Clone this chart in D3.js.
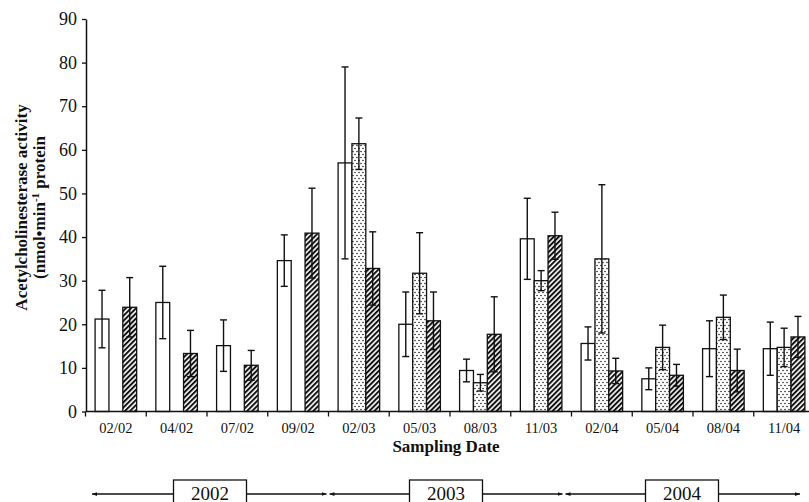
<!DOCTYPE html>
<html>
<head>
<meta charset="utf-8">
<script src="https://cdn.jsdelivr.net/npm/d3@7"></script>
<style>
  html, body { margin: 0; padding: 0; background: #fff; }
  svg { display: block; }
  text { font-family: "Liberation Serif", "Times New Roman", serif; fill: #111; }
</style>
</head>
<body>
<svg id="chart" width="809" height="502"></svg>
<script>
// Sampling dates (month/year)
const categories = ["02/02", "04/02", "07/02", "09/02", "02/03", "05/03",
                    "08/03", "11/03", "02/04", "05/04", "08/04", "11/04"];

// Mean activity per site (nmol·min-1 protein); null = not sampled
const siteOpen    = [21.2, 25.0, 15.1, 34.6, 57.0, 20.0, 9.4, 39.6, 15.6, 7.5, 14.4, 14.4];
const siteDotted  = [null, null, null, null, 61.4, 31.7, 6.6, 30.0, 35.0, 14.7, 21.6, 14.7];
const siteHatched = [23.9, 13.3, 10.6, 40.9, 32.8, 20.8, 17.7, 40.3, 9.3, 8.3, 9.4, 17.1];

// Standard deviations
const errOpen    = [6.6, 8.3, 5.9, 5.9, 22.0, 7.4, 2.6, 9.3, 3.8, 2.5, 6.4, 6.1];
const errDotted  = [null, null, null, null, 5.9, 9.3, 1.9, 2.3, 17.0, 5.1, 5.1, 4.4];
const errHatched = [6.8, 5.3, 3.4, 10.3, 8.4, 6.6, 8.6, 5.4, 2.9, 2.5, 4.9, 4.7];

const seriesKeys = ["open", "dotted", "hatched"];
const yTicks = [0, 10, 20, 30, 40, 50, 60, 70, 80, 90];
const years = [2002, 2003, 2004];

const svg = d3.select("#chart");

// Fill patterns
const defs = svg.append("defs");
const dots = defs.append("pattern")
  .attr("id", "dots").attr("patternUnits", "userSpaceOnUse")
  .attr("width", 4).attr("height", 6);
dots.append("rect").attr("width", 4).attr("height", 6).attr("fill", "#fff");
dots.append("circle").attr("cx", 1).attr("cy", 1.5).attr("r", 0.75).attr("fill", "#111");
dots.append("circle").attr("cx", 3).attr("cy", 4.5).attr("r", 0.75).attr("fill", "#111");

const hatch = defs.append("pattern")
  .attr("id", "hatch").attr("patternUnits", "userSpaceOnUse")
  .attr("width", 3.6).attr("height", 8)
  .attr("patternTransform", "rotate(45)");
hatch.append("rect").attr("width", 3.6).attr("height", 8).attr("fill", "#fff");
hatch.append("rect").attr("width", 2.0).attr("height", 8).attr("fill", "#111");

const fills = { open: "#fff", dotted: "url(#dots)", hatched: "url(#hatch)" };

// Scales
const x = d3.scaleBand().domain(categories).range([85.5, 814.5]).paddingInner(0).paddingOuter(0);
const xs = d3.scaleBand().domain(seriesKeys)
  .range([x.bandwidth() * 0.158, x.bandwidth() * 0.842]).padding(0);
const y = d3.scaleLinear().domain([0, 90]).range([411.5, 19]);

// Rows for drawing
const rows = [];
categories.forEach((c, i) => {
  [["open", siteOpen, errOpen], ["dotted", siteDotted, errDotted], ["hatched", siteHatched, errHatched]]
    .forEach(([k, vals, errs]) => {
      if (vals[i] != null) rows.push({ cat: c, key: k, v: vals[i], e: errs[i] });
    });
});

// Bars
const g = svg.append("g");
g.selectAll("rect.bar").data(rows).join("rect")
  .attr("class", "bar")
  .attr("x", d => x(d.cat) + xs(d.key))
  .attr("y", d => y(d.v))
  .attr("width", xs.bandwidth())
  .attr("height", d => y(0) - y(d.v))
  .attr("fill", d => fills[d.key])
  .attr("stroke", "#111")
  .attr("stroke-width", 1.3);

// Error bars
const eb = g.selectAll("g.err").data(rows).join("g").attr("class", "err")
  .attr("stroke", "#111").attr("stroke-width", 1.4);
const cx = d => x(d.cat) + xs(d.key) + xs.bandwidth() / 2;
eb.append("line")
  .attr("x1", cx).attr("x2", cx)
  .attr("y1", d => y(d.v + d.e)).attr("y2", d => y(Math.max(0, d.v - d.e)));
eb.append("line")
  .attr("x1", d => cx(d) - 3.5).attr("x2", d => cx(d) + 3.5)
  .attr("y1", d => y(d.v + d.e)).attr("y2", d => y(d.v + d.e));
eb.append("line")
  .attr("x1", d => cx(d) - 3.5).attr("x2", d => cx(d) + 3.5)
  .attr("y1", d => y(d.v - d.e)).attr("y2", d => y(d.v - d.e));

// Y axis
const yAxis = svg.append("g").attr("transform", "translate(86,0)")
  .call(d3.axisLeft(y).tickValues(yTicks).tickSize(4).tickPadding(5).tickSizeOuter(0));
yAxis.select(".domain").attr("stroke", "#111").attr("stroke-width", 1.5);
yAxis.selectAll(".tick line").attr("stroke", "#111").attr("stroke-width", 1.3);
yAxis.selectAll(".tick text").attr("font-size", 18).attr("font-family", "Liberation Serif, serif")
  .attr("fill", "#111");

// X axis: ticks at category boundaries
const xAxisG = svg.append("g").attr("transform", `translate(0,${y(0)})`);
xAxisG.append("line").attr("x1", 86).attr("x2", 809).attr("stroke", "#111").attr("stroke-width", 1.5);
xAxisG.selectAll("line.tk").data(categories).join("line").attr("class", "tk")
  .attr("x1", d => x(d)).attr("x2", d => x(d)).attr("y1", 0).attr("y2", 5)
  .attr("stroke", "#111").attr("stroke-width", 1.3);
xAxisG.selectAll("text").data(categories).join("text")
  .attr("x", d => x(d) + x.bandwidth() / 2).attr("y", 21.5)
  .attr("text-anchor", "middle").attr("font-size", 14.5)
  .text(d => d);

// Axis titles
svg.append("text").attr("x", 446).attr("y", 452).attr("text-anchor", "middle")
  .attr("font-size", 17).attr("font-weight", "bold").text("Sampling Date");

const yTitle = svg.append("g").attr("transform", "translate(0,207.5) rotate(-90)")
  .attr("font-weight", "bold").attr("font-size", 17);
yTitle.append("text").attr("x", 0).attr("y", 27).attr("text-anchor", "middle")
  .text("Acetylcholinesterase activity");
const t2 = yTitle.append("text").attr("x", 0).attr("y", 45).attr("text-anchor", "middle");
t2.append("tspan").text("(nmol\u2022min");
t2.append("tspan").attr("font-size", 11).attr("dy", -6).text("-1");
t2.append("tspan").attr("dy", 6).text(" protein");

// Year timeline
const tl = d3.scaleLinear().domain([2002, 2005]).range([92, 800]);
const tlY = 494;
defs.append("marker").attr("id", "arr").attr("viewBox", "0 0 8 6")
  .attr("refX", 8).attr("refY", 3).attr("markerWidth", 5).attr("markerHeight", 4)
  .attr("markerUnits", "userSpaceOnUse").attr("orient", "auto-start-reverse")
  .append("path").attr("d", "M0,0 L8,3 L0,6 Z").attr("fill", "#111");

const yg = svg.append("g").selectAll("g").data(years).join("g");
yg.append("line")
  .attr("x1", d => tl(d) + (d === 2002 ? 0 : 1.5))
  .attr("x2", d => tl(d + 1) - (d === 2004 ? 0 : 1.5))
  .attr("y1", tlY).attr("y2", tlY)
  .attr("stroke", "#111").attr("stroke-width", 1.3)
  .attr("marker-start", "url(#arr)").attr("marker-end", "url(#arr)");
yg.append("rect")
  .attr("x", d => (tl(d) + tl(d + 1)) / 2 - 36.5).attr("y", 480)
  .attr("width", 73).attr("height", 30)
  .attr("fill", "#fff").attr("stroke", "#111").attr("stroke-width", 1.3);
yg.append("text")
  .attr("x", d => (tl(d) + tl(d + 1)) / 2).attr("y", 499.5)
  .attr("text-anchor", "middle").attr("font-size", 19)
  .text(d => d);
</script>
</body>
</html>
